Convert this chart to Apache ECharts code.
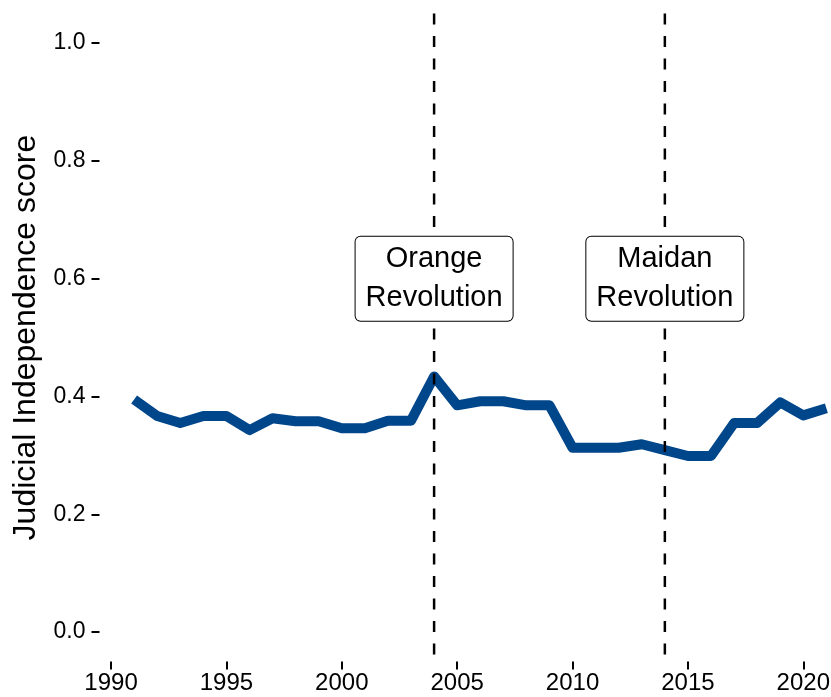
<!DOCTYPE html>
<html>
<head>
<meta charset="utf-8">
<script src="https://cdn.jsdelivr.net/npm/echarts@6/dist/echarts.min.js"></script>
<style>
  html, body { margin: 0; padding: 0; background: #fff; }
  #main { width: 831px; height: 697px; }
</style>
</head>
<body>
<div id="main"></div>
<script>
// judicial independence score by year
var years = [1991, 1992, 1993, 1994, 1995, 1996, 1997, 1998, 1999, 2000,
    2001, 2002, 2003, 2004, 2005, 2006, 2007, 2008, 2009, 2010,
    2011, 2012, 2013, 2014, 2015, 2016, 2017, 2018, 2019, 2020, 2021];
var scores = [0.395, 0.367, 0.355, 0.367, 0.367, 0.343, 0.363, 0.358, 0.358, 0.346,
    0.346, 0.359, 0.359, 0.434, 0.385, 0.392, 0.392, 0.385, 0.385, 0.313,
    0.313, 0.313, 0.319, 0.309, 0.299, 0.299, 0.355, 0.355, 0.390, 0.368, 0.380];

var eventYears = [2004, 2014];
var eventLabels = ['Orange\nRevolution', 'Maidan\nRevolution'];
var eventLabelY = 0.6;

var xTicks = [1990, 1995, 2000, 2005, 2010, 2015, 2020];
var yTicks = [0, 0.2, 0.4, 0.6, 0.8, 1.0];

var yMin = -0.05, yMax = 1.05;

var lineData = years.map(function (y, i) { return [y, scores[i]]; });
var labelData = eventYears.map(function (y, i) {
    return { value: [y, eventLabelY], label: { formatter: eventLabels[i] } };
});

var myChart = echarts.init(document.getElementById('main'));

var series = [{
    type: 'line',
    data: lineData,
    z: 2,
    symbol: 'none',
    lineStyle: {
        color: '#00468B',
        width: 10,
        join: 'round',
        cap: 'butt'
    }
}];

// dashed vertical lines for the events
eventYears.forEach(function (y) {
    series.push({
        type: 'line',
        data: [[y, yMax], [y, yMin]],
        z: 3,
        symbol: 'none',
        lineStyle: {
            color: '#000',
            width: 2.5,
            type: [11, 11.5]
        }
    });
});

series.push({
    type: 'scatter',
    data: labelData,
    z: 4,
    symbolSize: 0,
    itemStyle: { opacity: 1 },
    label: {
        show: true,
        position: 'inside',
        color: '#000',
        fontFamily: 'Liberation Sans, Arial, sans-serif',
        fontSize: 29,
        lineHeight: 39,
        align: 'center',
        backgroundColor: '#fff',
        borderColor: '#000',
        borderWidth: 1,
        borderRadius: 5,
        padding: [5, 10, 1, 10]
    }
});

var option = {
    backgroundColor: '#fff',
    animation: false,
    grid: {
        left: 99.5,
        top: 13.6,
        right: 0,
        bottom: 35.4,
        outerBoundsMode: 'none'
    },
    xAxis: {
        type: 'value',
        min: 1989.5,
        max: 2021.2,
        axisLine: { show: false, onZero: false },
        splitLine: { show: false },
        axisTick: {
            show: true,
            customValues: xTicks,
            length: 8,
            lineStyle: { color: '#000', width: 2 }
        },
        axisLabel: {
            customValues: xTicks,
            margin: 10,
            color: '#000',
            fontFamily: 'Liberation Sans, Arial, sans-serif',
            fontSize: 24,
            formatter: function (v) { return String(v); }
        }
    },
    yAxis: {
        type: 'value',
        min: yMin,
        max: yMax,
        name: 'Judicial Independence score',
        nameLocation: 'middle',
        nameGap: 44,
        nameTextStyle: {
            color: '#000',
            fontFamily: 'Liberation Sans, Arial, sans-serif',
            fontSize: 32
        },
        axisLine: { show: false, onZero: false },
        splitLine: { show: false },
        axisTick: {
            show: true,
            customValues: yTicks,
            length: 8,
            lineStyle: { color: '#000', width: 2 }
        },
        axisLabel: {
            customValues: yTicks,
            margin: 14,
            color: '#000',
            fontFamily: 'Liberation Sans, Arial, sans-serif',
            fontSize: 23,
            formatter: function (v) { return v.toFixed(1); }
        }
    },
    series: series
};

myChart.setOption(option);
</script>
</body>
</html>
